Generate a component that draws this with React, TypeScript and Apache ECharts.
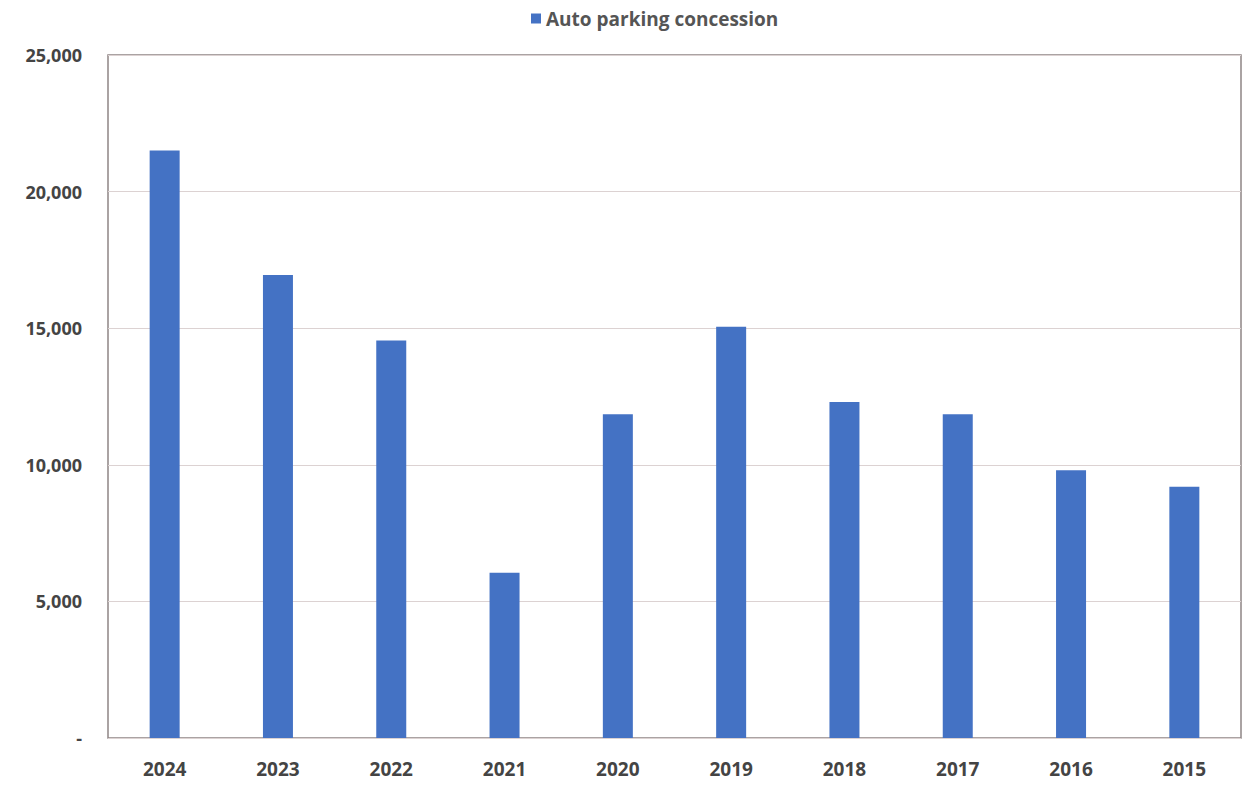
import React, { useEffect, useRef } from "react";
import * as echarts from "echarts";

const categories = ["2024", "2023", "2022", "2021", "2020", "2019", "2018", "2017", "2016", "2015"];
const values = [21500, 16950, 14550, 6050, 11850, 15050, 12300, 11850, 9800, 9200];
const seriesName = "Auto parking concession";

export default function App() {
  const ref = useRef<HTMLDivElement>(null);
  useEffect(() => {
    if (!ref.current) return;
    const chart = echarts.init(ref.current, null, { renderer: "svg" });
    const font = "'Open Sans', 'Liberation Sans', sans-serif";
    chart.setOption({
      animation: false,
      textStyle: { fontFamily: font },
      legend: {
        top: 4,
        left: 526,
        icon: "rect",
        itemWidth: 10,
        itemHeight: 10,
        itemGap: 6,
        textStyle: { fontFamily: font, fontSize: 19, fontWeight: "bold", color: "#555" },
        data: [seriesName],
      },
      grid: { left: 108, right: 5, top: 55, bottom: 47, show: true, borderColor: "#8f8585", borderWidth: 1.5, backgroundColor: "#fff" },
      xAxis: {
        type: "category",
        data: categories,
        axisLine: { show: false },
        axisTick: { show: false },
        axisLabel: { fontFamily: font, fontSize: 19, fontWeight: "bold", color: "#444", margin: 21 },
      },
      yAxis: {
        type: "value",
        min: 0,
        max: 25000,
        interval: 5000,
        axisLine: { show: false },
        axisTick: { show: false },
        splitLine: { lineStyle: { color: "#dcd2d2", width: 1 } },
        axisLabel: {
          fontFamily: font,
          fontSize: 18,
          fontWeight: "bold",
          color: "#444",
          margin: 26,
          formatter: (v: number) => (v === 0 ? "-" : v.toLocaleString("en-US")),
        },
      },
      series: [
        {
          name: seriesName,
          type: "bar",
          data: values,
          barWidth: 30,
          itemStyle: { color: "#4472C4" },
        },
      ],
    });
    return () => chart.dispose();
  }, []);
  return <div ref={ref} style={{ width: 1246, height: 785, position: "absolute", left: 0, top: 0, background: "#fff" }} />;
}
